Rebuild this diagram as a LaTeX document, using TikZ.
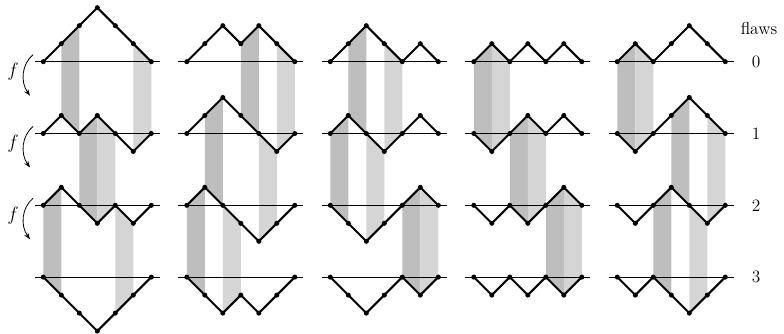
\documentclass[tikz,border=0pt]{standalone}
\usepackage{fontspec}
\usetikzlibrary{arrows.meta}
\definecolor{banddark}{gray}{0.745}
\definecolor{bandlight}{gray}{0.835}
\tikzset{
  pathline/.style={line width=1.5pt, line join=round, line cap=round},
  axisline/.style={line width=0.6pt},
  dot/.style={fill=black},
  darkband/.style={fill=banddark},
  lightband/.style={fill=bandlight},
  farrow/.style={line width=0.6pt, -{Stealth[length=5pt,width=3.6pt]}},
  lbl/.style={font=\fontsize{13}{15}\selectfont, inner sep=0pt},
  flbl/.style={font=\Large, inner sep=0pt},
}
\newcommand\defrow[3]{%
  \foreach \h [count=\i from 0] in {#3} {
    \coordinate (c#1r#2p\i) at ({43.3+143.5*#1+18*\i},{61.7+71.8*#2-18*\h});
  }
  \coordinate (c#1r#2L) at ({43.3+143.5*#1-8.5},{61.7+71.8*#2});
  \coordinate (c#1r#2R) at ({43.3+143.5*#1+116.5},{61.7+71.8*#2});
}
\newcommand\band[4]{%
  \pgfmathtruncatemacro\nj{#3+1}%
  \pgfmathtruncatemacro\nr{#2+1}%
  \fill[#4] (c#1r#2p#3) -- (c#1r#2p\nj) -- (c#1r\nr p\nj) -- (c#1r\nr p#3) -- cycle;
}
\newcommand\drawrow[2]{%
  \draw[axisline] (c#1r#2L) -- (c#1r#2R);
  \draw[pathline] (c#1r#2p0) -- (c#1r#2p1) -- (c#1r#2p2) -- (c#1r#2p3) -- (c#1r#2p4) -- (c#1r#2p5) -- (c#1r#2p6);
  \foreach \i in {0,...,6} \fill[dot] (c#1r#2p\i) circle[radius=1.9pt];
}
\begin{document}
\begin{tikzpicture}[x=0.75pt,y=-0.75pt]
\useasboundingbox (0,0) rectangle (784,334);
% column 0
\defrow{0}{0}{0,1,2,3,2,1,0}
\defrow{0}{1}{0,1,0,1,0,-1,0}
\defrow{0}{2}{0,1,0,-1,0,-1,0}
\defrow{0}{3}{0,-1,-2,-3,-2,-1,0}
% column 1
\defrow{1}{0}{0,1,2,1,2,1,0}
\defrow{1}{1}{0,1,2,1,0,-1,0}
\defrow{1}{2}{0,1,0,-1,-2,-1,0}
\defrow{1}{3}{0,-1,-2,-1,-2,-1,0}
% column 2
\defrow{2}{0}{0,1,2,1,0,1,0}
\defrow{2}{1}{0,1,0,-1,0,1,0}
\defrow{2}{2}{0,-1,-2,-1,0,1,0}
\defrow{2}{3}{0,-1,-2,-1,0,-1,0}
% column 3
\defrow{3}{0}{0,1,0,1,0,1,0}
\defrow{3}{1}{0,-1,0,1,0,1,0}
\defrow{3}{2}{0,-1,0,-1,0,1,0}
\defrow{3}{3}{0,-1,0,-1,0,-1,0}
% column 4
\defrow{4}{0}{0,1,0,1,2,1,0}
\defrow{4}{1}{0,-1,0,1,2,1,0}
\defrow{4}{2}{0,-1,0,1,0,-1,0}
\defrow{4}{3}{0,-1,0,-1,-2,-1,0}
% bands
\band{0}{0}{1}{darkband}\band{0}{0}{5}{lightband}
\band{0}{1}{2}{darkband}\band{0}{1}{3}{lightband}
\band{0}{2}{0}{darkband}\band{0}{2}{4}{lightband}
\band{1}{0}{3}{darkband}\band{1}{0}{5}{lightband}
\band{1}{1}{1}{darkband}\band{1}{1}{4}{lightband}
\band{1}{2}{0}{darkband}\band{1}{2}{2}{lightband}
\band{2}{0}{1}{darkband}\band{2}{0}{3}{lightband}
\band{2}{1}{0}{darkband}\band{2}{1}{2}{lightband}
\band{2}{2}{4}{darkband}\band{2}{2}{5}{lightband}
\band{3}{0}{0}{darkband}\band{3}{0}{1}{lightband}
\band{3}{1}{2}{darkband}\band{3}{1}{3}{lightband}
\band{3}{2}{4}{darkband}\band{3}{2}{5}{lightband}
\band{4}{0}{0}{darkband}\band{4}{0}{1}{lightband}
\band{4}{1}{3}{darkband}\band{4}{1}{5}{lightband}
\band{4}{2}{2}{darkband}\band{4}{2}{4}{lightband}
% paths
\foreach \c in {0,...,4} {
  \foreach \r in {0,...,3} {
    \drawrow{\c}{\r}
  }
}
% labels
\node[lbl] (flaws) at (759,28) {flaws};
\foreach \r in {0,...,3} {
  \node[lbl] (n\r) at (756,{61.7+71.8*\r}) {\r};
}
\foreach \r in {0,1,2} {
  \coordinate (fs\r) at (33,{61.7+71.8*\r-7});
  \coordinate (fe\r) at (30,{61.7+71.8*\r+34});
  \draw[farrow] (fs\r) .. controls (22,{61.7+71.8*\r+2}) and (20,{61.7+71.8*\r+20}) .. (fe\r);
  \node[flbl] (f\r) at (13,{61.7+71.8*\r+10}) {$f$};
}
\end{tikzpicture}
\end{document}
